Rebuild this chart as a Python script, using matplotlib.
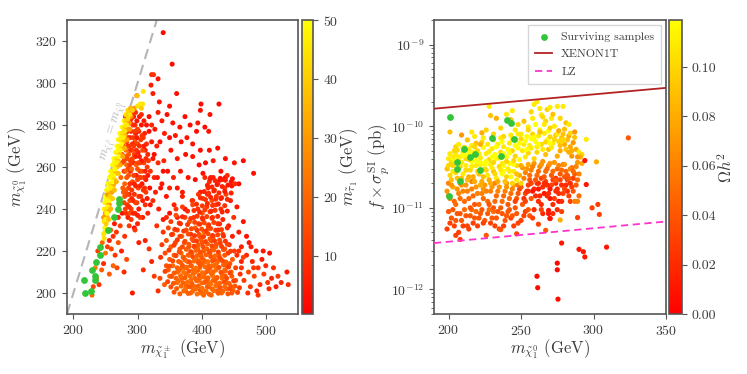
import numpy as np
import matplotlib
matplotlib.use('Agg')
import matplotlib.pyplot as plt

plt.rcParams['font.family'] = 'serif'
plt.rcParams['font.serif'] = ['cmr10', 'DejaVu Serif']
plt.rcParams['mathtext.fontset'] = 'cm'
plt.rcParams['axes.formatter.use_mathtext'] = True
plt.rcParams['axes.unicode_minus'] = False

TXT = '#3c3c3c'
SPINE = '#555555'
GREEN = '#33c43a'

# ---- left panel: (m_chargino, m_neutralino, m_stau) ----
band_pts = [
    (248, 226, 44), (249, 229, 47), (247, 228, 45), (249, 231, 48), (248, 234, 46), (251, 233, 40),
    (250, 237, 49), (253, 236, 36), (247, 236, 30), (250, 238, 28), (248, 240, 47), (252, 240, 44),
    (255, 239, 33), (249, 243, 48), (253, 243, 42), (256, 242, 30), (250, 246, 50), (254, 246, 46),
    (258, 245, 35), (253, 247, 30), (252, 249, 47), (256, 249, 44), (260, 248, 32), (254, 252, 49),
    (258, 252, 45), (262, 251, 38), (256, 255, 50), (260, 255, 48), (264, 254, 40), (258, 258, 49),
    (262, 258, 46), (266, 257, 36), (261, 261, 50), (265, 261, 47), (268, 260, 38), (263, 264, 50),
    (267, 264, 45), (270, 263, 40), (266, 267, 49), (270, 267, 46), (273, 266, 34), (268, 270, 50),
    (272, 270, 47), (276, 269, 40), (270, 273, 48), (274, 273, 45), (278, 272, 36), (272, 276, 50),
    (276, 276, 44), (280, 275, 38), (276, 279, 49), (280, 279, 42), (284, 278, 33), (279, 282, 46),
    (283, 282, 40), (287, 281, 30), (282, 285, 45), (286, 285, 38), (290, 284, 28), (285, 287, 42),
    (289, 288, 36), (295, 288, 30), (300, 289, 44), (304, 290, 46), (308, 290, 45), (306, 288, 40),
    (299, 294, 38), (309, 296, 45), (251, 244, 49), (255, 250, 50), (259, 256, 48), (264, 262, 49),
    (269, 268, 50), (274, 274, 48), (278, 277, 46), (281, 280, 47), (257, 246, 41), (263, 252, 34),
    (250, 235, 47), (252, 238, 50), (254, 241, 48), (256, 244, 49), (259, 250, 47), (261, 253, 50),
    (263, 256, 48), (265, 259, 49), (268, 262, 47), (271, 265, 50), (273, 268, 48), (275, 271, 49),
    (278, 274, 47), (280, 277, 44), (283, 280, 46), (285, 283, 43), (288, 285, 45), (292, 287, 41),
    (253, 230, 42), (255, 235, 38), (258, 240, 36), (261, 245, 40), (264, 249, 37), (267, 253, 35),
    (270, 257, 38), (273, 261, 34), (277, 265, 33), (280, 269, 35), (284, 273, 32), (288, 278, 31),
]
near_band_pts = [
    (276, 262, 12), (279, 258, 8), (282, 265, 15), (285, 270, 10), (288, 274, 6), (291, 268, 14),
    (294, 262, 9), (297, 276, 5), (300, 271, 12), (303, 265, 7), (306, 280, 4), (309, 274, 10),
    (312, 268, 6), (315, 260, 11), (318, 277, 3), (283, 255, 18), (286, 250, 13), (289, 258, 7),
    (292, 253, 16), (295, 247, 10), (298, 256, 5), (301, 250, 14), (304, 258, 9), (307, 252, 4),
    (310, 262, 12), (313, 254, 6), (316, 266, 8), (319, 250, 3), (322, 272, 5), (280, 246, 15),
    (284, 242, 10), (287, 247, 6), (290, 240, 12), (293, 244, 4), (296, 238, 8), (299, 243, 11),
    (302, 240, 5), (305, 246, 9), (278, 270, 16), (281, 276, 11), (284, 281, 7), (287, 278, 13),
    (290, 283, 5), (293, 280, 9), (296, 272, 15), (299, 282, 4), (302, 277, 8), (305, 273, 11),
    (308, 268, 14), (311, 276, 6), (314, 271, 9), (317, 263, 12), (283, 261, 20), (286, 266, 17),
    (289, 263, 11), (292, 271, 8), (295, 266, 13), (298, 261, 18), (301, 267, 6), (304, 262, 10),
    (307, 258, 15), (310, 255, 8), (313, 248, 12), (316, 256, 5), (320, 258, 9), (324, 264, 4),
    (326, 255, 7), (280, 252, 19), (282, 268, 22), (285, 259, 14), (288, 252, 9), (291, 259, 20),
    (294, 256, 12), (297, 251, 7), (300, 259, 16), (303, 255, 11), (277, 250, 18), (279, 243, 13),
    (282, 238, 9), (285, 236, 6), (288, 244, 15), (291, 249, 10), (274, 255, 20), (276, 266, 17),
    (278, 274, 12), (281, 284, 14), (294, 284, 6), (297, 286, 9), (300, 278, 13), (303, 284, 4),
    (306, 285, 8), (310, 282, 5), (318, 284, 3), (322, 280, 7), (327, 278, 4), (330, 270, 6),
    (326, 266, 3), (332, 262, 8), (335, 272, 2), (331, 255, 5), (336, 250, 4), (340, 258, 3),
    (328, 248, 6), (324, 244, 8), (320, 242, 4), (316, 238, 7), (312, 242, 9), (308, 236, 5),
    (304, 236, 12), (300, 233, 7), (296, 230, 10),
    (279, 263, 14), (282, 249, 17), (285, 274, 9), (288, 261, 12), (291, 245, 8), (294, 270, 11),
    (297, 265, 6), (300, 254, 13), (303, 270, 9), (306, 263, 5), (309, 249, 10), (312, 258, 7),
    (315, 245, 4), (283, 272, 12), (286, 256, 16), (289, 268, 10), (292, 264, 13), (295, 252, 6),
    (298, 268, 9), (301, 262, 14), (304, 251, 7), (307, 275, 10), (310, 270, 6), (313, 264, 8),
    (281, 258, 19), (284, 264, 15), (287, 270, 11), (290, 277, 7), (293, 274, 12), (296, 280, 8),
    (299, 274, 5), (302, 246, 10), (305, 255, 13), (308, 244, 6), (311, 250, 9), (314, 280, 4),
    (278, 248, 17), (281, 240, 12), (284, 247, 14), (287, 241, 9), (290, 235, 11), (293, 238, 7),
    (297, 243, 13), (300, 237, 6), (285, 277, 14), (289, 281, 10), (292, 286, 7), (296, 277, 12),
]
low_left_pts = [
    (229, 199, 20), (231, 203, 14), (236, 207, 22), (240, 204, 10), (244, 211, 18), (247, 214, 8),
    (242, 218, 16), (250, 219, 24), (253, 222, 12), (256, 225, 6), (259, 221, 14), (262, 227, 9),
    (245, 224, 20), (258, 230, 15), (264, 233, 5), (267, 229, 10), (270, 236, 7), (273, 232, 12),
    (276, 238, 4), (270, 224, 16), (265, 218, 11), (262, 213, 20), (268, 212, 14), (275, 220, 6),
    (280, 227, 9), (287, 232, 11), (283, 216, 15), (279, 210, 8), (292, 200, 5), (288, 238, 16),
    (295, 231, 3), (302, 224, 6), (309, 211, 8), (256, 209, 18), (234, 212, 25), (238, 220, 12),
    (318, 221, 10), (322, 215, 7), (326, 208, 12), (312, 225, 6), (332, 201, 9),
]
upper_scatter_pts = [
    (340, 324, 2), (354, 309, 3), (322, 304, 8), (325, 304, 10), (332, 302, 4), (321, 299, 6),
    (299, 294, 9), (324, 295, 5), (361, 295, 3), (334, 291, 4), (350, 289, 3), (399, 290, 2),
    (427, 290, 2), (398, 287, 3), (413, 285, 4), (332, 286, 6), (346, 285, 3), (338, 282, 5),
    (374, 284, 2), (355, 281, 4), (366, 279, 3), (382, 280, 2), (394, 281, 5), (392, 277, 3),
    (405, 279, 2), (411, 277, 4), (342, 276, 6), (350, 274, 3), (359, 275, 5), (368, 272, 2),
    (377, 274, 4), (386, 271, 3), (398, 268, 2), (412, 268, 3), (425, 269, 2), (437, 264, 3),
    (465, 263, 2), (481, 257, 3), (451, 262, 4), (406, 262, 2), (418, 263, 5), (430, 258, 3),
    (396, 261, 2), (386, 265, 4), (375, 266, 3), (362, 264, 5), (352, 268, 4), (341, 263, 7),
    (347, 258, 3), (356, 255, 6), (367, 258, 4), (379, 255, 3), (390, 254, 2), (402, 257, 3),
    (414, 255, 4), (426, 253, 2), (437, 255, 3), (447, 251, 4), (458, 252, 2), (370, 248, 5),
    (345, 246, 4), (357, 242, 7), (333, 240, 6), (340, 235, 5), (330, 232, 9), (350, 238, 3),
    (362, 236, 6), (374, 240, 4), (386, 244, 8), (398, 248, 5), (362, 250, 4), (350, 250, 7),
    (338, 252, 5),
]
main_low_pts = [
    (405, 255, 8), (412, 253, 10), (418, 255, 6), (425, 252, 12), (432, 254, 7), (440, 256, 9),
    (446, 253, 5), (452, 252, 8), (436, 250, 11), (420, 249, 14), (410, 250, 9),
    (395, 247, 10), (402, 245, 13), (409, 247, 8), (416, 244, 15), (423, 246, 11), (430, 245, 7),
    (438, 247, 12), (445, 244, 6), (385, 244, 9), (370, 246, 6),
    (370, 241, 12), (378, 239, 8), (386, 242, 14), (394, 240, 10), (401, 238, 16), (408, 241, 11),
    (415, 239, 7), (422, 242, 13), (430, 240, 9), (440, 239, 6), (455, 241, 4), (360, 240, 10),
    (345, 236, 8), (352, 234, 12), (360, 237, 15), (367, 233, 9), (374, 236, 13), (381, 234, 17),
    (388, 236, 11), (395, 233, 14), (402, 235, 8), (410, 232, 18), (417, 236, 12), (425, 233, 10),
    (433, 235, 7), (442, 232, 5), (450, 236, 9), (465, 234, 4),
    (340, 229, 10), (348, 231, 14), (355, 228, 17), (362, 230, 12), (369, 227, 19), (376, 230, 15),
    (383, 228, 10), (390, 231, 18), (397, 227, 14), (404, 229, 20), (411, 231, 12), (418, 227, 16),
    (426, 230, 9), (433, 228, 13), (440, 231, 8), (448, 227, 6), (458, 229, 5), (470, 227, 3),
    (338, 223, 12), (345, 225, 16), (352, 222, 18), (359, 224, 14), (366, 221, 18), (373, 224, 16),
    (380, 222, 16), (387, 225, 12), (394, 221, 19), (401, 224, 17), (408, 221, 17), (415, 225, 14),
    (422, 222, 19), (429, 224, 11), (436, 221, 15), (443, 223, 9), (451, 220, 12), (462, 222, 6),
    (474, 224, 4),
    (336, 217, 10), (343, 219, 15), (350, 216, 18), (357, 218, 18), (364, 215, 18), (371, 217, 20),
    (378, 215, 19), (385, 219, 19), (392, 216, 21), (399, 218, 20), (406, 215, 21), (413, 219, 18),
    (420, 216, 18), (427, 218, 20), (434, 215, 16), (441, 219, 12), (448, 216, 18), (455, 218, 9),
    (462, 215, 7),
    (348, 211, 18), (355, 213, 20), (362, 210, 20), (369, 212, 20), (376, 209, 21), (383, 213, 19),
    (390, 210, 22), (397, 212, 20), (404, 209, 20), (411, 213, 18), (418, 210, 21), (425, 212, 21),
    (432, 209, 19), (439, 213, 17), (446, 210, 20), (453, 212, 13), (460, 209, 10),
    (362, 205, 21), (369, 207, 20), (376, 204, 20), (383, 206, 21), (390, 203, 20), (397, 207, 22),
    (404, 205, 19), (411, 203, 21), (418, 206, 20), (425, 204, 22), (432, 207, 21), (439, 205, 19),
    (446, 203, 18), (453, 206, 15),
    (375, 201, 20), (383, 200, 20), (391, 202, 21), (399, 200, 22), (407, 201, 22), (415, 199, 20),
    (423, 201, 19), (431, 200, 21), (439, 202, 20), (447, 200, 17), (403, 199, 19),
    (380, 218, 21), (387, 211, 20), (394, 206, 19), (401, 214, 20), (408, 207, 21), (416, 213, 22),
    (423, 207, 19), (430, 216, 19), (437, 208, 18), (444, 214, 16), (389, 222, 18), (396, 215, 18),
    (403, 220, 16), (410, 211, 20), (417, 221, 19), (424, 215, 17), (375, 212, 19), (368, 219, 20),
    (385, 203, 21), (412, 205, 22), (428, 202, 20), (436, 211, 21), (335, 207, 14), (342, 204, 18),
    (350, 208, 20), (345, 213, 16),
]
main_dense_pts = [
    (357, 200.4, 16), (366, 199.6, 19), (372, 201.0, 21), (379, 199.8, 18), (386, 200.9, 20), (393, 199.5, 22),
    (398, 201.3, 17), (405, 200.2, 21), (412, 199.4, 19), (419, 201.1, 22), (426, 199.9, 18), (433, 200.8, 20),
    (441, 199.6, 16), (449, 201.2, 19), (456, 200.3, 14),
    (352, 202.9, 15), (361, 202.1, 18), (368, 203.3, 20), (375, 202.4, 22), (381, 203.0, 17), (388, 201.9, 21),
    (395, 203.4, 19), (401, 202.2, 22), (409, 203.1, 18), (416, 202.0, 20), (422, 203.5, 21), (429, 202.6, 17),
    (436, 203.0, 20), (444, 202.1, 15), (452, 203.3, 17), (459, 202.5, 12),
    (347, 205.4, 14), (356, 204.6, 17), (364, 205.8, 21), (371, 204.9, 19), (378, 205.3, 22), (385, 204.4, 18),
    (392, 205.9, 20), (400, 204.8, 21), (407, 205.5, 17), (414, 204.3, 22), (421, 205.7, 19), (428, 204.7, 20),
    (435, 205.2, 16), (443, 204.5, 18), (450, 205.8, 13),
    (353, 207.9, 16), (360, 207.0, 19), (367, 208.2, 21), (374, 207.3, 18), (382, 208.0, 22), (389, 207.1, 20),
    (396, 208.4, 17), (403, 207.6, 21), (410, 207.2, 19), (417, 208.3, 22), (424, 207.4, 18), (432, 208.1, 20),
    (439, 207.0, 15), (447, 208.0, 17),
    (343, 210.3, 13), (357, 209.5, 18), (365, 210.7, 20), (372, 209.8, 22), (380, 210.4, 17), (387, 209.3, 21),
    (394, 210.8, 19), (401, 209.7, 22), (408, 210.2, 18), (415, 209.4, 20), (422, 210.9, 21), (430, 209.9, 16),
    (437, 210.5, 19), (444, 209.6, 14),
    (350, 212.8, 15), (362, 212.0, 19), (370, 213.2, 17), (377, 212.3, 21), (384, 213.0, 18), (391, 211.9, 22),
    (398, 213.3, 17), (405, 212.5, 20), (413, 211.8, 18), (420, 213.1, 21), (427, 212.2, 16), (434, 213.4, 19),
    (442, 212.4, 13),
    (355, 215.3, 14), (367, 214.6, 18), (374, 215.7, 20), (381, 214.8, 16), (388, 215.2, 21), (395, 214.4, 17),
    (403, 215.8, 19), (410, 214.9, 22), (417, 215.4, 16), (424, 214.5, 20), (431, 215.6, 15), (438, 214.7, 18),
    (360, 217.8, 13), (372, 217.0, 17), (379, 218.1, 19), (386, 217.3, 15), (393, 217.9, 20), (400, 216.9, 17),
    (407, 218.2, 19), (414, 217.4, 16), (421, 217.7, 20), (428, 216.8, 14), (436, 218.0, 17),
    (349, 220.4, 12), (365, 219.6, 16), (376, 220.8, 18), (383, 219.7, 14), (391, 220.3, 19), (398, 219.4, 16),
    (405, 220.9, 20), (412, 219.8, 15), (419, 220.5, 18), (426, 219.5, 13), (434, 220.7, 16), (445, 219.9, 11),
    (357, 222.8, 12), (370, 222.0, 15), (380, 223.2, 17), (388, 222.3, 13), (395, 223.0, 18), (402, 222.1, 15),
    (409, 223.4, 19), (416, 222.5, 14), (423, 223.1, 16), (431, 222.2, 12), (440, 223.3, 14),
    (362, 225.3, 11), (374, 224.6, 14), (385, 225.7, 16), (392, 224.8, 12), (399, 225.4, 17), (406, 224.5, 14),
    (413, 225.8, 16), (420, 224.9, 12), (428, 225.2, 15), (437, 224.7, 10),
    (353, 227.8, 10), (366, 227.0, 13), (379, 228.1, 15), (389, 227.3, 11), (396, 227.9, 16), (403, 226.9, 13),
    (410, 228.2, 15), (417, 227.4, 11), (425, 227.7, 14), (434, 227.1, 9),
    (358, 230.3, 10), (372, 229.5, 12), (384, 230.6, 14), (393, 229.8, 11), (400, 230.4, 15), (407, 229.6, 12),
    (414, 230.7, 14), (422, 229.9, 10), (431, 230.2, 12),
    (365, 233.3, 9), (378, 232.6, 12), (389, 233.7, 13), (397, 232.8, 10), (404, 233.4, 14), (411, 232.5, 11),
    (419, 233.6, 13), (428, 232.9, 9),
    (370, 236.3, 8), (383, 235.5, 11), (393, 236.6, 12), (401, 235.7, 9), (408, 236.4, 13), (416, 235.6, 10),
    (425, 236.5, 8),
    (388, 239.3, 10), (397, 238.5, 8), (405, 239.6, 12), (413, 238.7, 9), (421, 239.4, 11), (432, 238.6, 7),
    (392, 242.3, 9), (401, 241.5, 11), (409, 242.6, 8), (417, 241.7, 10), (426, 242.4, 7), (436, 241.6, 9),
    (398, 245.3, 8), (406, 244.5, 10), (414, 245.6, 7), (422, 244.7, 9), (431, 245.4, 6), (440, 244.6, 8),
    (404, 248.3, 7), (411, 247.5, 9), (419, 248.6, 6), (427, 247.7, 8), (436, 248.4, 5), (446, 247.6, 7),
    (409, 251.3, 6), (416, 250.5, 8), (424, 251.6, 5), (432, 250.7, 7), (441, 251.4, 4),
    (413, 254.3, 5), (421, 253.5, 7), (429, 254.6, 4), (437, 253.7, 6), (448, 254.4, 3),
]
tail_pts = [
    (462, 212, 10), (466, 206, 12), (470, 218, 8), (473, 210, 14), (476, 203, 11), (479, 215, 7),
    (482, 208, 13), (485, 220, 6), (488, 212, 10), (491, 204, 9), (494, 216, 5), (497, 209, 12),
    (500, 213, 8), (503, 205, 10), (506, 219, 4), (509, 207, 7), (512, 212, 9), (516, 203, 6),
    (519, 208, 11), (524, 205, 7), (533, 210, 5), (535, 204, 8), (488, 199, 10), (486, 201, 6),
    (472, 200, 9), (465, 217, 13), (458, 220, 10), (477, 222, 6), (496, 220, 4), (505, 202, 8),
    (481, 212, 11),
]
surv_chargino = [217, 218, 227, 229, 233, 234, 236, 241, 242, 254, 264, 269, 271, 271]
surv_neutralino_l = [206, 200, 201, 211, 208, 206, 215, 218, 222, 230, 236, 240, 243, 245]
diag_line = [190, 330]

# ---- right panel: (m_neutralino, f*sigma_SI [1e-11 pb], Omega h^2) ----
top_pts = [
    (201, 8.5, .09), (204, 5.0, .10), (213, 6.8, .09), (216, 8.5, .11), (222, 6.0, .08), (226, 9.0, .10),
    (228, 17.5, .11), (229, 13.5, .09), (233, 12.5, .08), (236, 9.5, .10), (240, 14, .11), (244, 15.5, .11),
    (243, 12, .09), (248, 10.5, .10), (252, 11.5, .09), (257, 15, .10), (259, 18.5, .11), (261, 20, .11),
    (263, 16.5, .11), (265, 13, .10), (268, 16, .10), (270, 17, .11), (272, 14, .09), (275, 17.5, .11),
    (279, 17.5, .11), (277, 12.5, .10), (281, 11, .09), (283, 10.5, .11), (255, 9, .10), (263, 8.5, .09),
    (270, 9.5, .10), (276, 8.8, .08), (284, 8.2, .10), (287, 8.5, .07), (280, 9.2, .09), (266, 10.5, .11),
    (258, 12.5, .11), (250, 8.0, .11), (246, 9.0, .11), (238, 7.5, .10), (231, 8.0, .10), (224, 7.2, .11),
    (218, 7.5, .11), (211, 5.5, .10), (207, 6.0, .11), (203, 4.2, .11), (209, 7.8, .07), (223, 8.3, .08),
]
upper_pts = [
    (200, 4.0, .11), (202, 3.6, .10), (205, 4.5, .11), (207, 3.8, .12), (210, 4.8, .11), (212, 4.0, .10),
    (214, 5.2, .11), (216, 3.7, .12), (218, 4.4, .11), (220, 5.0, .10), (222, 4.1, .11), (224, 5.5, .12),
    (226, 4.6, .11), (228, 3.9, .10), (230, 5.3, .11), (232, 4.5, .12), (234, 6.0, .11), (236, 4.8, .10),
    (238, 5.6, .11), (240, 4.2, .12), (242, 6.2, .11), (244, 5.0, .10), (246, 6.8, .11), (248, 5.4, .12),
    (250, 7.0, .10), (252, 6.0, .11), (254, 7.5, .12), (256, 5.8, .11), (258, 8.0, .10), (260, 6.5, .12),
    (262, 7.6, .11), (264, 6.0, .10), (266, 8.2, .11), (268, 6.8, .12), (270, 7.4, .10), (272, 6.2, .11),
    (274, 7.8, .09), (276, 6.5, .10), (278, 7.2, .09), (280, 6.0, .08), (282, 6.8, .09), (284, 5.6, .08),
    (286, 6.3, .07), (288, 5.2, .08), (290, 4.8, .11), (292, 4.5, .10), (291, 4.2, .08), (289, 3.6, .07),
    (212, 3.3, .11), (225, 3.4, .12), (237, 3.5, .11), (245, 3.8, .10), (253, 4.2, .11), (261, 4.8, .10),
    (269, 5.2, .09), (277, 5.0, .08), (285, 4.3, .07), (205, 5.6, .10), (219, 6.2, .09), (231, 6.8, .10),
    (243, 7.8, .11), (255, 9.8, .11), (267, 11.5, .10), (273, 10.0, .11), (279, 8.0, .09), (260, 10.5, .12),
    (271, 12.5, .11), (264, 13.8, .11), (257, 7.0, .12), (249, 6.2, .12), (241, 5.2, .12), (233, 4.0, .12),
    (217, 4.8, .12), (209, 4.3, .12), (203, 3.3, .10),
    (201, 4.6, .11), (204, 3.9, .12), (206, 5.1, .10), (209, 3.6, .11), (211, 4.4, .12), (214, 3.9, .10),
    (216, 5.8, .11), (219, 3.8, .12), (221, 4.6, .11), (223, 6.4, .10), (226, 3.7, .12), (228, 4.9, .11),
    (231, 3.6, .10), (233, 5.6, .12), (235, 4.1, .11), (237, 6.5, .12), (240, 3.7, .10), (242, 4.7, .12),
    (244, 7.0, .11), (246, 4.3, .10), (249, 3.9, .12), (251, 5.0, .11), (253, 6.6, .12), (255, 4.7, .10),
    (257, 5.4, .11), (259, 7.3, .12), (261, 5.6, .11), (263, 9.0, .12), (265, 5.2, .11), (267, 6.4, .10),
    (269, 8.8, .12), (271, 5.5, .11), (273, 6.9, .10), (275, 8.0, .11), (277, 5.8, .09), (279, 6.9, .10),
    (281, 5.2, .09), (283, 7.6, .08), (285, 5.0, .08), (287, 7.3, .09), (289, 4.2, .07), (283, 4.8, .08),
    (275, 4.3, .08), (267, 4.5, .09), (259, 4.0, .10), (246, 5.8, .12), (238, 4.6, .12), (230, 4.2, .12),
    (222, 3.6, .12), (214, 4.6, .12), (207, 4.2, .11), (262, 6.0, .12), (270, 6.2, .12), (278, 6.5, .10),
    (254, 5.2, .12), (248, 8.0, .11), (236, 7.2, .11), (227, 6.0, .11), (218, 5.6, .10), (210, 5.4, .11),
]
mid_pts = [
    (199, 3.0, .09), (201, 2.5, .10), (203, 2.8, .11), (206, 2.3, .09), (208, 3.2, .10), (210, 2.6, .11),
    (213, 2.2, .09), (215, 2.9, .10), (217, 2.4, .08), (219, 3.3, .11), (221, 2.6, .09), (223, 2.1, .08),
    (225, 3.0, .10), (227, 2.5, .11), (229, 2.0, .08), (231, 2.8, .09), (233, 2.3, .11), (235, 3.2, .10),
    (237, 2.6, .12), (239, 2.1, .09), (241, 3.0, .11), (243, 2.4, .12), (245, 2.8, .11), (247, 3.3, .10),
    (249, 2.5, .08), (251, 3.1, .07), (253, 2.7, .06), (255, 3.4, .08), (257, 2.9, .06), (259, 3.5, .07),
    (261, 2.5, .05), (263, 3.2, .06), (265, 3.7, .07), (267, 2.8, .05), (269, 3.3, .06), (271, 2.5, .04),
    (273, 3.6, .07), (275, 3.0, .05), (277, 2.6, .04), (279, 3.4, .06), (281, 2.8, .05), (283, 2.3, .04),
    (285, 3.1, .05), (287, 2.6, .04), (289, 2.2, .05), (238, 2.8, .12), (242, 3.5, .12), (229, 3.4, .11),
    (244, 2.0, .10), (247, 2.2, .11), (250, 2.0, .10),
    (200, 3.3, .10), (202, 2.2, .09), (205, 2.7, .10), (207, 3.4, .11), (209, 2.3, .09), (212, 2.9, .10),
    (214, 2.4, .08), (216, 3.2, .11), (218, 2.1, .08), (220, 2.8, .10), (222, 3.4, .11), (224, 2.4, .09),
    (226, 2.9, .10), (228, 2.2, .08), (230, 3.1, .11), (232, 2.6, .10), (234, 2.1, .08), (236, 2.9, .11),
    (238, 3.3, .12), (240, 2.4, .10), (242, 2.8, .11), (245, 3.4, .12), (247, 2.6, .09), (250, 3.3, .08),
    (252, 2.3, .06), (254, 3.0, .07), (256, 2.5, .05), (258, 3.2, .06), (260, 2.2, .04), (262, 2.8, .05),
    (264, 3.4, .07), (266, 2.4, .04), (268, 3.0, .05), (270, 3.5, .07), (272, 2.8, .05), (274, 2.2, .04),
    (276, 3.3, .06), (278, 2.9, .05), (280, 3.4, .07), (282, 2.5, .04), (284, 3.0, .06), (286, 2.8, .05),
    (288, 3.2, .06), (290, 2.6, .06), (292, 3.5, .08),
]
lower_pts = [
    (199, 1.6, .07), (201, 1.3, .06), (203, 1.8, .08), (205, 1.1, .05), (207, 1.5, .06), (209, 1.9, .07),
    (211, 1.2, .05), (213, 1.6, .06), (215, 1.0, .04), (217, 1.4, .05), (219, 1.8, .07), (221, 1.1, .05),
    (223, 1.5, .06), (225, 1.9, .07), (227, 1.2, .05), (229, 1.6, .06), (231, 1.0, .04), (233, 1.4, .05),
    (235, 1.8, .07), (237, 1.2, .05), (239, 1.6, .06), (241, 1.1, .04), (243, 1.5, .05), (245, 1.9, .07),
    (247, 1.3, .04), (249, 1.7, .03), (251, 1.1, .04), (253, 1.5, .03), (255, 1.9, .03), (257, 1.3, .04),
    (259, 1.7, .02), (261, 2.0, .03), (263, 1.4, .02), (265, 1.8, .02), (267, 2.1, .03), (269, 1.5, .02),
    (271, 1.9, .03), (273, 1.3, .03), (275, 1.7, .02), (277, 2.2, .03), (279, 1.5, .03), (281, 1.9, .02),
    (283, 1.4, .03), (285, 1.8, .03), (286, 2.3, .03), (280, 2.4, .04), (272, 2.2, .03), (264, 2.3, .03),
    (256, 2.2, .04), (248, 1.9, .06), (240, 2.0, .07), (232, 2.0, .06), (224, 1.7, .07), (216, 2.1, .06),
    (208, 2.0, .06), (200, 2.0, .06), (252, 1.3, .02), (258, 1.6, .01), (262, 1.2, .02), (266, 1.5, .01),
    (268, 1.9, .02), (270, 1.3, .01), (274, 1.6, .02), (276, 1.2, .01), (278, 1.9, .02), (282, 1.6, .02),
    (284, 2.0, .02), (274, 2.3, .02), (262, 2.0, .02), (254, 1.6, .02), (246, 1.2, .03),
    (200, 1.4, .06), (202, 1.9, .07), (204, 1.2, .05), (206, 1.7, .07), (208, 1.3, .05), (210, 1.6, .06),
    (212, 1.9, .07), (214, 1.3, .05), (216, 1.7, .06), (218, 1.1, .04), (220, 1.5, .06), (222, 1.9, .08),
    (224, 1.3, .05), (226, 1.6, .06), (228, 1.1, .04), (230, 1.8, .07), (232, 1.2, .05), (234, 1.6, .06),
    (236, 1.0, .04), (238, 1.4, .05), (240, 1.8, .07), (242, 1.3, .05), (244, 1.7, .06), (246, 1.0, .04),
    (248, 1.5, .04), (250, 1.8, .04), (253, 1.2, .03), (255, 1.6, .02), (257, 2.0, .03), (260, 1.4, .02),
    (262, 1.7, .01), (264, 1.1, .02), (266, 2.0, .02), (268, 1.4, .02), (270, 1.7, .01), (272, 1.1, .02),
    (274, 2.0, .02), (276, 1.5, .02), (278, 1.2, .02), (280, 1.7, .03), (282, 2.2, .03), (284, 1.2, .03),
    (286, 1.6, .04), (288, 1.9, .04), (290, 1.4, .05),
]
bottom_pts = [
    (199, 0.55, .03), (200, 0.9, .04), (202, 0.75, .04), (204, 0.6, .03), (206, 0.85, .04), (207, 0.5, .03),
    (209, 0.7, .04), (211, 0.95, .05), (213, 0.6, .03), (215, 0.8, .04), (217, 0.65, .03), (219, 0.9, .05),
    (221, 0.75, .04), (223, 0.95, .04), (225, 0.7, .04), (227, 0.85, .04), (229, 0.65, .03), (231, 0.9, .05),
    (233, 0.75, .04), (235, 0.55, .03), (237, 0.85, .04), (239, 0.7, .04), (241, 0.9, .04), (243, 0.75, .03),
    (245, 0.6, .03), (247, 0.85, .04), (250, 0.7, .03), (253, 0.9, .03), (256, 0.8, .04), (259, 0.95, .02),
    (262, 0.63, .03), (265, 0.85, .02), (267, 0.53, .04), (269, 0.85, .01), (270, 0.74, .01), (275, 0.95, .02),
    (278, 0.9, .03), (226, 0.46, .04), (208, 0.41, .03), (205, 0.46, .03), (236, 0.54, .04), (247, 0.48, .03),
    (201, 0.65, .03), (203, 0.95, .04), (205, 0.7, .04), (208, 0.85, .04), (210, 0.6, .03), (212, 0.8, .04),
    (214, 0.55, .03), (216, 0.95, .05), (218, 0.75, .04), (220, 0.6, .03), (222, 0.85, .04), (224, 0.65, .03),
    (228, 0.95, .05), (230, 0.75, .04), (232, 0.6, .03), (234, 0.9, .04), (238, 0.6, .03), (240, 0.8, .04),
    (242, 0.95, .04), (244, 0.8, .04), (248, 0.65, .03), (252, 0.8, .03), (255, 0.95, .04), (258, 0.75, .03),
    (264, 0.95, .03), (272, 0.85, .02),
]
outlier_pts = [
    (324, 7.2, .04), (302, 3.66, .08), (295, 6.9, .11), (294, 3.8, .01), (295, 1.93, .01), (299, 1.0, .03),
    (303, 1.1, .03), (304, 0.83, .03), (289, 1.2, .06), (287, 1.2, .06), (289, 0.76, .03), (277, 0.71, .08),
    (278, 0.37, .01), (290, 0.31, .01), (293, 0.29, .01), (294, 0.25, .01), (309, 0.33, .01), (275, 0.21, .005),
    (275, 0.174, .005), (261, 0.145, .005), (261.5, 0.105, .005), (275.5, 0.076, .005), (270, 0.74, .01),
    (269, 0.93, .01),
]
surv_neutralino_r = [201, 200, 206, 206, 208, 211, 215, 218, 222, 230, 236, 240, 243, 245]
surv_sigma = [12.8, 1.40, 3.69, 3.03, 2.12, 5.22, 4.21, 4.62, 2.92, 7.19, 4.30, 11.8, 11.0, 6.93]
xenon_mass = [190, 350]
xenon_sigma = [16.4, 29.5]
lz_mass = [190, 350]
lz_sigma = [0.37, 0.68]


def unzip(*groups):
    pts = [p for g in groups for p in g]
    return [np.array(v, dtype=float) for v in zip(*pts)]


def style_axes(ax):
    for sp in ax.spines.values():
        sp.set_color(SPINE)
        sp.set_linewidth(1.2)
    ax.tick_params(colors=SPINE, labelcolor=TXT, labelsize=10, direction='out')


fig = plt.figure(figsize=(7.47, 3.74), dpi=100)
ax1 = fig.add_axes([0.0897, 0.1604, 0.309, 0.786])
cax1 = fig.add_axes([0.4043, 0.1604, 0.0147, 0.786])
ax2 = fig.add_axes([0.581, 0.1604, 0.3106, 0.786])
cax2 = fig.add_axes([0.8956, 0.1604, 0.0174, 0.786])

# left panel
lx, ly, lc = unzip(upper_scatter_pts, main_low_pts, main_dense_pts, tail_pts, low_left_pts,
                   near_band_pts, band_pts)
ax1.plot(diag_line, diag_line, ls=(0, (5, 3)), color='#b5b5b5', lw=1.5, zorder=1)
sc1 = ax1.scatter(lx, ly, c=lc, cmap='autumn', vmin=0.2, vmax=50, s=13, linewidths=0, zorder=2)
ax1.scatter(surv_chargino, surv_neutralino_l, color=GREEN, s=24, linewidths=0, zorder=3)
ax1.text(263, 277, r'$m_{\tilde{\chi}_1^\pm} = m_{\tilde{\chi}_1^0}$', rotation=73, color='#b5b5b5',
         fontsize=9, ha='center', va='center')
ax1.set_xlim(190, 550)
ax1.set_ylim(190, 330)
ax1.set_xticks([200, 300, 400, 500])
ax1.set_yticks(range(200, 321, 20))
ax1.set_xlabel(r'$m_{\tilde{\chi}_1^\pm}$ (GeV)', fontsize=12, color=TXT)
ax1.set_ylabel(r'$m_{\tilde{\chi}_1^0}$ (GeV)', fontsize=12, color=TXT)
ax1.xaxis.set_label_coords(0.5, -0.08)
ax1.yaxis.set_label_coords(-0.165, 0.5)
style_axes(ax1)

cb1 = fig.colorbar(sc1, cax=cax1, ticks=[10, 20, 30, 40, 50])
cb1.set_label(r'$m_{\tilde{\tau}_1}$ (GeV)', fontsize=12, color=TXT)
cax1.yaxis.set_label_coords(3.25, 0.5)
cb1.outline.set_edgecolor(SPINE)
cb1.outline.set_linewidth(1.2)
cax1.tick_params(colors=SPINE, labelcolor=TXT, labelsize=10)

# right panel
rx, ry, rc = unzip(bottom_pts, lower_pts, mid_pts, upper_pts, top_pts, outlier_pts)
sc2 = ax2.scatter(rx, ry * 1e-11, c=rc, cmap='autumn', vmin=0, vmax=0.119, s=14, linewidths=0, zorder=2)
ax2.scatter(surv_neutralino_r, np.array(surv_sigma) * 1e-11, color=GREEN, s=24, linewidths=0, zorder=3,
            label='Surviving samples')
ax2.plot(xenon_mass, np.array(xenon_sigma) * 1e-11, color='#b22222', lw=1.3, label='XENON1T', zorder=4)
ax2.plot(lz_mass, np.array(lz_sigma) * 1e-11, color='#ff33cc', lw=1.3, ls=(0, (4, 2.5)), label='LZ', zorder=4)
ax2.set_yscale('log')
ax2.set_xlim(190, 350)
ax2.set_ylim(5e-13, 2e-9)
ax2.set_xticks([200, 250, 300, 350])
ax2.set_xlabel(r'$m_{\tilde{\chi}_1^0}$ (GeV)', fontsize=12, color=TXT)
ax2.set_ylabel(r'$f \times \sigma_p^{\rm SI}$ (pb)', fontsize=12, color=TXT)
ax2.xaxis.set_label_coords(0.5, -0.08)
ax2.yaxis.set_label_coords(-0.185, 0.5)
style_axes(ax2)
ax2.tick_params(which='minor', colors=SPINE)
leg = ax2.legend(loc='upper right', fontsize=8.5, frameon=True, fancybox=False, edgecolor='#cccccc',
                 handlelength=1.4, borderpad=0.6, labelspacing=0.6, borderaxespad=0.4)
for t in leg.get_texts():
    t.set_color(TXT)

cb2 = fig.colorbar(sc2, cax=cax2, ticks=[0, 0.02, 0.04, 0.06, 0.08, 0.10])
cb2.ax.set_yticklabels(['0.00', '0.02', '0.04', '0.06', '0.08', '0.10'])
cb2.set_label(r'$\Omega h^2$', fontsize=12, color=TXT)
cax2.yaxis.set_label_coords(3.6, 0.5)
cb2.outline.set_edgecolor(SPINE)
cb2.outline.set_linewidth(1.2)
cax2.tick_params(colors=SPINE, labelcolor=TXT, labelsize=10)

fig.savefig('out.png', dpi=100)
